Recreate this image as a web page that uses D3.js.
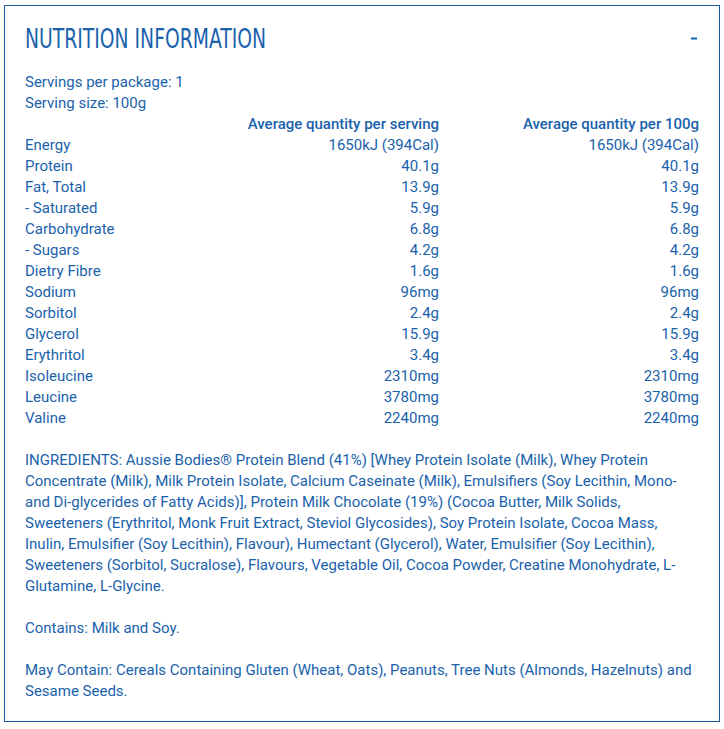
<!DOCTYPE html>
<html><head><meta charset="utf-8">
<script src="https://cdn.jsdelivr.net/npm/d3@7/dist/d3.min.js"></script>
<style>
html,body{margin:0;padding:0;background:#fff;}
svg text{font-family:Roboto,"Noto Sans",sans-serif;}
</style></head>
<body><div id="chart"></div>
<script>
const title = "NUTRITION INFORMATION";
const servingInfo = ["Servings per package: 1", "Serving size: 100g"];
const columnHeaders = ["Average quantity per serving", "Average quantity per 100g"];
const nutrients = ["Energy","Protein","Fat, Total","- Saturated","Carbohydrate","- Sugars","Dietry Fibre","Sodium","Sorbitol","Glycerol","Erythritol","Isoleucine","Leucine","Valine"];
const perServing = ["1650kJ (394Cal)","40.1g","13.9g","5.9g","6.8g","4.2g","1.6g","96mg","2.4g","15.9g","3.4g","2310mg","3780mg","2240mg"];
const per100g = ["1650kJ (394Cal)","40.1g","13.9g","5.9g","6.8g","4.2g","1.6g","96mg","2.4g","15.9g","3.4g","2310mg","3780mg","2240mg"];
const ingredientLines = [
 "INGREDIENTS: Aussie Bodies® Protein Blend (41%) [Whey Protein Isolate (Milk), Whey Protein",
 "Concentrate (Milk), Milk Protein Isolate, Calcium Caseinate (Milk), Emulsifiers (Soy Lecithin, Mono-",
 "and Di-glycerides of Fatty Acids)], Protein Milk Chocolate (19%) (Cocoa Butter, Milk Solids,",
 "Sweeteners (Erythritol, Monk Fruit Extract, Steviol Glycosides), Soy Protein Isolate, Cocoa Mass,",
 "Inulin, Emulsifier (Soy Lecithin), Flavour), Humectant (Glycerol), Water, Emulsifier (Soy Lecithin),",
 "Sweeteners (Sorbitol, Sucralose), Flavours, Vegetable Oil, Cocoa Powder, Creatine Monohydrate, L-",
 "Glutamine, L-Glycine."
];
const containsLines = ["Contains: Milk and Soy."];
const mayContainLines = ["May Contain: Cereals Containing Gluten (Wheat, Oats), Peanuts, Tree Nuts (Almonds, Hazelnuts) and","Sesame Seeds."];

const W = 724, H = 729;
const blue = "#1a62ab";
const svg = d3.select("#chart").append("svg").attr("width", W).attr("height", H);

svg.append("rect").attr("x",4.5).attr("y",5.5).attr("width",715).attr("height",716)
  .attr("fill","#fff").attr("stroke","#1a5a9e").attr("stroke-width",1);

svg.append("text").attr("x",25).attr("y",48).text(title)
  .attr("fill",blue).style("font-family","'DejaVu Sans Condensed','Liberation Sans Narrow',sans-serif")
  .style("font-size","26px").attr("textLength",241).attr("lengthAdjust","spacingAndGlyphs");
svg.append("line").attr("x1",691).attr("x2",697).attr("y1",38.5).attr("y2",38.5)
  .attr("stroke",blue).attr("stroke-width",2);

const lineH = 21, fs = "15px";
function textLine(x, y, s, anchor, weight){
  return svg.append("text").attr("x",x).attr("y",y).text(s).attr("fill",blue)
    .style("font-size",fs).attr("text-anchor",anchor||"start").style("font-weight",weight||400);
}
servingInfo.forEach((s,i)=>textLine(25, 86.5 + i*lineH, s));
textLine(439, 129, columnHeaders[0], "end", 500);
textLine(699, 129, columnHeaders[1], "end", 500);

const y = d3.scaleBand().domain(nutrients).range([138, 138 + nutrients.length*lineH]);
nutrients.forEach((n,i)=>{
  const yy = y(n) + 11.5;
  textLine(25, yy, n);
  textLine(439, yy, perServing[i], "end");
  textLine(699, yy, per100g[i], "end");
});

ingredientLines.forEach((s,i)=>textLine(25, 464.5 + i*lineH, s));
containsLines.forEach((s,i)=>textLine(25, 632.5 + i*lineH, s));
mayContainLines.forEach((s,i)=>textLine(25, 674.5 + i*lineH, s));
</script></body></html>
